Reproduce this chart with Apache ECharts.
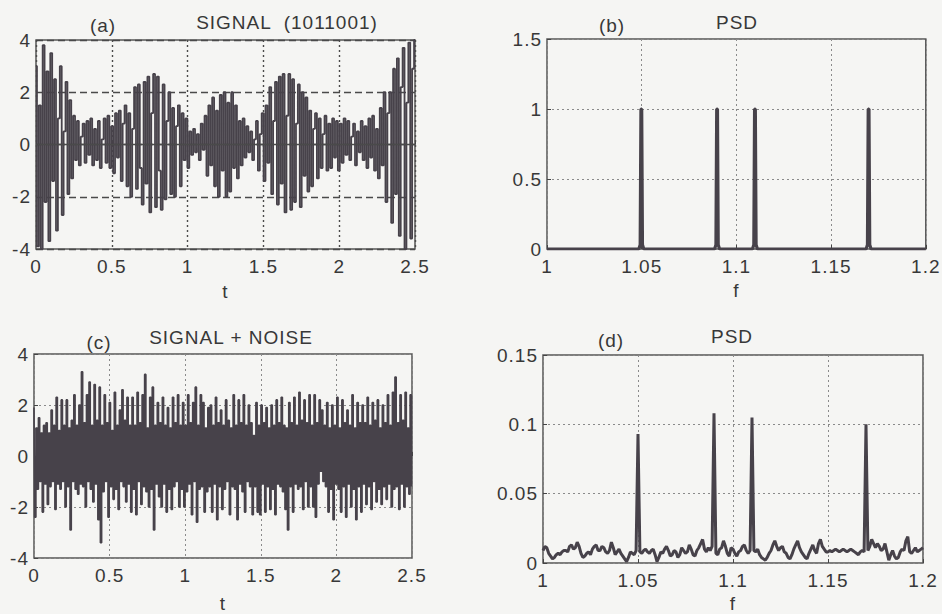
<!DOCTYPE html>
<html>
<head>
<meta charset="utf-8">
<script src="https://cdn.jsdelivr.net/npm/echarts@6/dist/echarts.min.js"></script>
<style>
  html, body { margin: 0; padding: 0; background: #f5f5f3; }
  #chart { width: 942px; height: 614px; }
  #chart svg text { letter-spacing: 1px; }
</style>
</head>
<body>
<div id="chart"></div>
<script>
// (a) signal 1011001, sample values, t from 0 to 2.5
var signalA = [
  3.0, -3.9, 1.5, -4.0, 3.8, -2.2, 2.8, -3.7, 3.5, -1.4, 2.5, -3.3, 1.0, 3.0, -2.7, 0.5, 2.4, -1.9, 1.7, -1.3,
  1.1, -0.6, 0.9, -0.8, 0.3, 0.8, -0.7, 0.9, -0.4, 1.0, -0.8, 0.6, -0.6, 0.9, -0.9, 0.2, 1.0, -0.7, 1.1, -0.9,
  0.7, -1.1, 1.2, -0.5, 1.3, -1.4, 0.8, 1.5, -1.6, 1.2, -2.0, 0.6, 2.2, -1.7, 2.3, -0.9, -2.3, 2.4, -1.5, 2.6,
  -2.6, 1.2, 2.7, -2.4, 2.6, -1.0, -2.5, 2.3, -2.1, 0.9, 2.0, -1.9, 1.4, -2.0, 0.7, 1.5, -1.6, 1.2, -0.6, 1.0,
  -0.9, 0.5, -0.4, 0.6, -0.3, 0.4, -0.6, 0.8, -0.2, 1.1, -1.2, 1.5, -0.8, 1.8, -1.6, 1.3, -2.0, 1.9, -1.0, 2.0,
  -2.0, 1.6, -1.8, 2.0, -0.9, 1.5, -1.3, 0.9, -0.8, 1.0, -0.5, 0.7, -0.3, 0.5, -0.6, 0.2, 0.9, -1.0, 0.4, 1.2,
  -1.4, 1.5, -0.7, 2.2, -1.9, 0.9, 2.4, -2.3, 2.6, -1.5, 2.7, -2.6, 1.1, 2.7, -2.5, 2.5, -2.2, 0.8, 2.3, -2.4,
  2.0, -1.2, 1.8, -1.8, 1.3, -1.6, 0.6, 1.2, -1.3, 1.0, -0.9, 0.4, 1.1, -1.0, 0.8, -0.9, 1.0, -0.5, 0.9, -1.0,
  0.8, -0.7, 1.0, -0.4, 0.9, -0.6, 0.3, 0.8, -0.8, 0.5, -0.3, 0.9, -0.6, 0.7, -0.9, 1.0, -0.5, 1.1, -1.0, 0.6,
  -1.3, 1.4, -0.8, 2.0, -2.2, 1.2, 2.0, -3.0, 2.9, -1.9, 3.3, -3.5, 2.2, 3.7, -4.0, 1.6, 3.9, -3.6, 2.9, 4.0
];

// (c) signal + noise
var signalC = [
  1.9, -2.4, 1.1, -1.3, 1.5, -1.0, 0.9, -2.2, 1.2, -1.1, 1.3, -1.9, 0.9, -1.2, 1.8, -1.0, 1.2, -2.1, 2.3, -1.1,
  1.0, -1.3, 2.2, -1.0, 1.2, -2.0, 2.2, -1.2, 1.1, -2.9, 1.4, -1.0, 2.4, -1.3, 1.2, -1.5, 2.0, -1.1, 3.3, -1.2,
  1.3, -2.0, 2.4, -1.0, 2.9, -1.3, 1.2, -1.8, 2.8, -1.1, 1.4, -2.5, 2.7, -3.4, 1.2, -1.4, 2.4, -1.0, 1.3, -2.4,
  2.1, -1.2, 1.0, -1.7, 2.5, -1.3, 1.2, -2.1, 1.8, -1.0, 2.6, -1.2, 1.4, -1.8, 2.3, -1.1, 1.2, -2.2, 2.3, -1.3,
  1.2, -2.3, 2.5, -1.0, 1.3, -1.9, 2.4, -1.2, 3.2, -1.4, 1.1, -2.0, 2.3, -1.3, 2.7, -2.9, 1.2, -1.1, 2.1, -1.6,
  1.3, -2.0, 2.3, -1.1, 1.2, -2.2, 1.9, -1.3, 1.1, -2.1, 2.3, -1.2, 1.3, -1.0, 2.4, -2.0, 1.2, -1.3, 2.1, -2.0,
  1.2, -1.4, 2.4, -1.1, 1.3, -2.3, 2.1, -1.0, 2.7, -2.6, 1.2, -1.3, 2.4, -1.2, 2.1, -2.2, 1.1, -1.4, 1.9, -1.2,
  2.0, -2.2, 1.2, -1.1, 2.3, -2.5, 1.3, -1.2, 1.8, -2.1, 1.2, -1.3, 2.2, -1.0, 1.4, -2.3, 1.1, -1.2, 2.4, -1.3,
  1.2, -2.5, 2.2, -1.1, 1.3, -1.4, 2.4, -2.2, 1.2, -1.0, 2.0, -1.2, 1.3, -2.3, 0.8, -1.2, 2.1, -2.2, 1.2, -2.3,
  2.0, -1.1, 1.3, -2.2, 1.9, -1.2, 1.1, -2.1, 2.0, -1.3, 1.2, -2.3, 2.2, -1.1, 1.3, -1.2, 2.3, -1.4, 1.2, -2.1,
  1.1, -2.9, 2.1, -1.2, 1.3, -2.2, 2.3, -1.1, 1.2, -1.3, 2.5, -1.2, 1.4, -2.1, 2.2, -1.0, 1.3, -2.0, 2.4, -1.2,
  1.2, -2.0, 2.4, -2.4, 1.3, -1.1, 2.2, -0.6, 1.8, -1.0, 1.2, -1.2, 2.1, -2.2, 1.1, -1.3, 2.0, -2.5, 1.2, -1.1,
  2.3, -1.3, 1.1, -2.2, 2.2, -1.2, 1.3, -2.4, 1.8, -1.1, 1.2, -2.0, 2.4, -1.3, 1.1, -2.5, 2.1, -1.2, 1.3, -2.2,
  2.0, -1.1, 1.3, -1.9, 2.3, -1.2, 1.2, -2.1, 2.1, -1.0, 1.4, -1.8, 2.2, -1.3, 1.1, -1.9, 2.0, -1.2, 1.3, -1.7,
  2.4, -1.1, 1.2, -2.0, 2.5, -1.3, 3.1, -1.2, 1.3, -2.1, 2.4, -1.1, 1.4, -2.0, 2.5, -1.2, 1.1, -1.5, 2.4, -1.2
];

// (b) PSD of the clean signal: [f, psd]
var psdB = [
  [1.000, 0], [1.0485, 0], [1.0492, 0.03], [1.0496, 1], [1.0500, 1], [1.0504, 0.03], [1.0511, 0],
  [1.0885, 0], [1.0892, 0.03], [1.0896, 1], [1.0900, 1], [1.0904, 0.03], [1.0911, 0],
  [1.1085, 0], [1.1092, 0.03], [1.1096, 1], [1.1100, 1], [1.1104, 0.03], [1.1111, 0],
  [1.1685, 0], [1.1692, 0.03], [1.1696, 1], [1.1700, 1], [1.1704, 0.03], [1.1711, 0],
  [1.200, 0]
];

// (d) PSD of signal + noise, one value every 0.001 from f = 1.0
var psdDStart = 1.0;
var psdDStep = 0.001;
var psdD = [
  0.009, 0.012, 0.011, 0.007, 0.005, 0.003, 0.004, 0.006, 0.007, 0.006,
  0.008, 0.009, 0.009, 0.008, 0.012, 0.013, 0.010, 0.011, 0.015, 0.012,
  0.007, 0.004, 0.005, 0.007, 0.008, 0.006, 0.010, 0.012, 0.013, 0.009,
  0.009, 0.012, 0.011, 0.008, 0.007, 0.009, 0.015, 0.011, 0.006, 0.008,
  0.010, 0.007, 0.005, 0.003, 0.001, 0.004, 0.008, 0.007, 0.006, 0.009,
  0.093, 0.008, 0.007, 0.009, 0.010, 0.008, 0.007, 0.009, 0.010, 0.006,
  0.001, 0.004, 0.008, 0.007, 0.010, 0.012, 0.009, 0.005, 0.006, 0.009,
  0.008, 0.004, 0.006, 0.011, 0.009, 0.007, 0.008, 0.013, 0.010, 0.006,
  0.005, 0.009, 0.011, 0.014, 0.017, 0.010, 0.008, 0.011, 0.009, 0.012,
  0.108, 0.007, 0.006, 0.010, 0.011, 0.016, 0.012, 0.007, 0.005, 0.011,
  0.010, 0.007, 0.005, 0.008, 0.009, 0.012, 0.013, 0.009, 0.007, 0.009,
  0.105, 0.009, 0.008, 0.010, 0.006, 0.004, 0.003, 0.002, 0.004, 0.007,
  0.009, 0.013, 0.016, 0.012, 0.009, 0.011, 0.012, 0.008, 0.007, 0.004,
  0.003, 0.006, 0.010, 0.013, 0.016, 0.011, 0.008, 0.006, 0.004, 0.003,
  0.007, 0.010, 0.013, 0.009, 0.007, 0.014, 0.017, 0.012, 0.010, 0.008,
  0.008, 0.009, 0.008, 0.009, 0.010, 0.009, 0.008, 0.009, 0.010, 0.009,
  0.008, 0.009, 0.010, 0.009, 0.008, 0.007, 0.006, 0.008, 0.009, 0.008,
  0.100, 0.009, 0.012, 0.017, 0.014, 0.011, 0.014, 0.012, 0.009, 0.010,
  0.014, 0.008, 0.002, 0.006, 0.009, 0.005, 0.003, 0.004, 0.008, 0.010,
  0.009, 0.016, 0.019, 0.008, 0.007, 0.009, 0.011, 0.008, 0.009, 0.010,
  0.011
];

var tMax = 2.5;

function timePairs(vals) {
  var n = vals.length;
  return vals.map(function(v, i) { return [i * tMax / (n - 1), v]; });
}

var lineColor = '#47424a';
var textColor = '#383838';
var fontFamily = 'Liberation Sans, Arial, sans-serif';

function xAxis(gridIndex, min, max, interval, name, nameGap, gridStyle) {
  return {
    type: 'value', gridIndex: gridIndex, min: min, max: max, interval: interval,
    name: name, nameLocation: 'middle', nameGap: nameGap,
    nameTextStyle: { color: textColor, fontSize: 19, fontFamily: fontFamily },
    axisLine: { show: false },
    axisTick: { show: true, inside: true, length: 4, lineStyle: { color: '#444' } },
    axisLabel: { color: textColor, fontSize: 19, fontFamily: fontFamily, margin: 8 },
    splitLine: { show: true, lineStyle: gridStyle }
  };
}

function yAxis(gridIndex, min, max, interval, gridStyle) {
  return {
    type: 'value', gridIndex: gridIndex, min: min, max: max, interval: interval,
    axisLine: { show: false },
    axisTick: { show: true, inside: true, length: 4, lineStyle: { color: '#444' } },
    axisLabel: { color: textColor, fontSize: 19, fontFamily: fontFamily, margin: 5 },
    splitLine: { show: true, lineStyle: gridStyle }
  };
}

var dotted = { color: '#4a4a4a', type: [2, 3], width: 1.4 };
var dashed = { color: '#4a4a4a', type: [7, 4], width: 1.3 };
var light = { color: '#8a8a8a', type: [2, 3], width: 1 };

var boxStyle = { show: true, borderColor: '#555', borderWidth: 1.5, backgroundColor: 'transparent' };

function label(x, y, text) {
  return {
    type: 'text', x: x, y: y,
    style: { text: text, fill: textColor, font: '19px ' + fontFamily, align: 'center', verticalAlign: 'middle' }
  };
}

var chart = echarts.init(document.getElementById('chart'), null, { renderer: 'svg' });

chart.setOption({
  backgroundColor: '#f5f5f3',
  animation: false,
  grid: [
    Object.assign({ left: 36, top: 40, width: 379, height: 209 }, boxStyle),
    Object.assign({ left: 547, top: 39, width: 380, height: 210 }, boxStyle),
    Object.assign({ left: 34, top: 354, width: 378, height: 212 }, boxStyle),
    Object.assign({ left: 543, top: 355, width: 380, height: 212 }, boxStyle)
  ],
  xAxis: [
    xAxis(0, 0, 2.5, 0.5, 't', 33, dotted),
    xAxis(1, 1, 1.2, 0.05, 'f', 32, light),
    xAxis(2, 0, 2.5, 0.5, 't', 36, light),
    xAxis(3, 1, 1.2, 0.05, 'f', 31, light)
  ],
  yAxis: [
    yAxis(0, -4, 4, 2, dashed),
    yAxis(1, 0, 1.5, 0.5, light),
    yAxis(2, -4, 4, 2, light),
    yAxis(3, 0, 0.15, 0.05, light)
  ],
  graphic: [
    label(103, 25, '(a)'),
    label(287, 22, 'SIGNAL  (1011001)'),
    label(612, 25, '(b)'),
    label(737, 22, 'PSD'),
    label(99, 342, '(c)'),
    label(231, 337, 'SIGNAL + NOISE'),
    label(611, 340, '(d)'),
    label(732, 336, 'PSD')
  ],
  series: [
    {
      type: 'line', xAxisIndex: 0, yAxisIndex: 0, data: timePairs(signalA),
      step: 'middle', showSymbol: false, lineStyle: { color: lineColor, width: 1.8 },
      markLine: {
        silent: true, symbol: 'none', label: { show: false },
        lineStyle: { color: '#4a4a4a', type: 'solid', width: 1.3 },
        data: [{ yAxis: 0 }]
      }
    },
    {
      type: 'line', xAxisIndex: 1, yAxisIndex: 1, data: psdB,
      showSymbol: false, lineStyle: { color: lineColor, width: 3.2 }
    },
    {
      type: 'line', xAxisIndex: 2, yAxisIndex: 2, data: timePairs(signalC),
      step: 'middle', showSymbol: false, lineStyle: { color: lineColor, width: 1.6 }
    },
    {
      type: 'line', xAxisIndex: 3, yAxisIndex: 3,
      data: psdD.map(function(v, i) { return [psdDStart + i * psdDStep, v]; }),
      showSymbol: false, lineStyle: { color: lineColor, width: 3 }
    }
  ]
});
</script>
</body>
</html>
